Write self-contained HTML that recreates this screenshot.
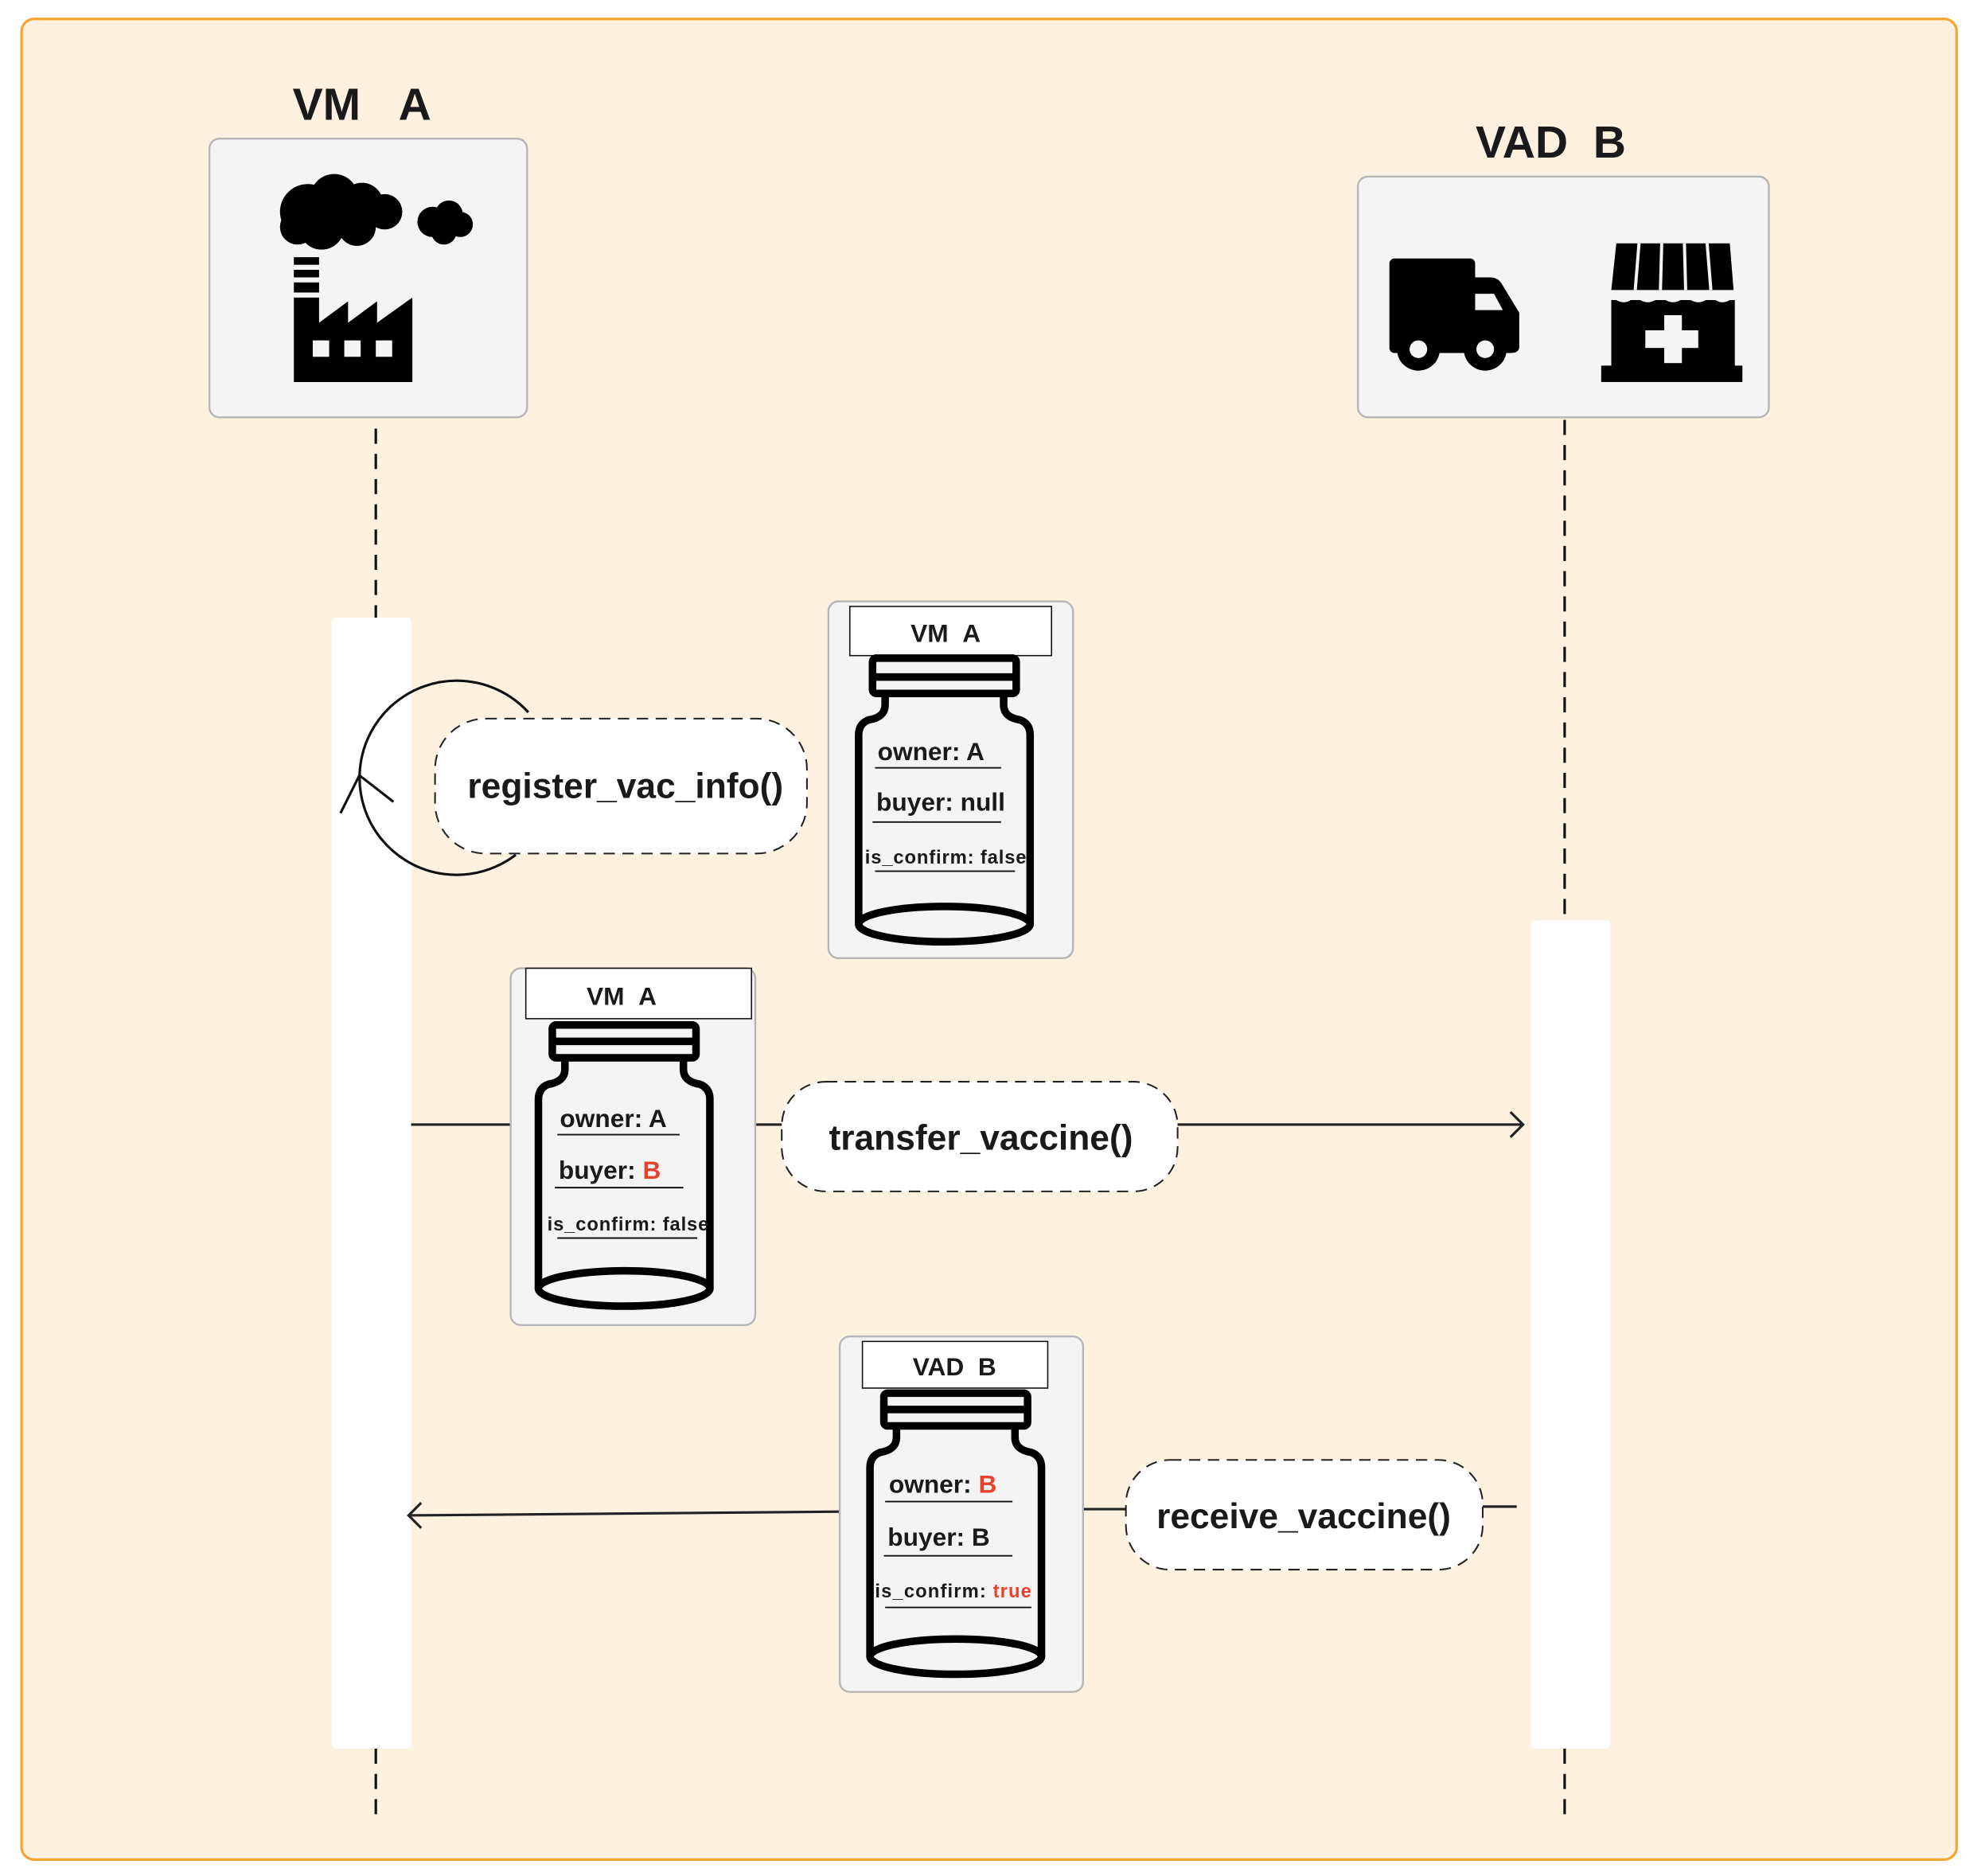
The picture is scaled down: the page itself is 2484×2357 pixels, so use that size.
<!DOCTYPE html>
<html><head><meta charset="utf-8"><style>
html,body{margin:0;padding:0;background:#fff;}
svg{display:block;}
text{font-family:"Liberation Sans",sans-serif;font-weight:bold;fill:#1a1a1a;}
</style></head><body>
<svg width="2484" height="2357" viewBox="0 0 1568 1488" xmlns="http://www.w3.org/2000/svg">
<rect x="17" y="15" width="1535" height="1460" rx="10" fill="#fef1df" stroke="#f7a531" stroke-width="2"/>

<!-- VM A -->
<text x="287" y="95" font-size="36" text-anchor="middle">VM&#160;&#160;&#160;A</text>
<rect x="166" y="110" width="252" height="221" rx="8" fill="#f4f4f4" stroke="#b5b5b5" stroke-width="1.5"/>
<g fill="#000">
 <circle cx="244" cy="168" r="22"/><circle cx="265" cy="157" r="19"/><circle cx="287" cy="162" r="17"/><circle cx="305" cy="168" r="14"/><circle cx="255" cy="180" r="18"/><circle cx="283" cy="180" r="15"/><circle cx="236" cy="180" r="14"/>
 <circle cx="343" cy="176" r="12"/><circle cx="356" cy="170" r="11"/><circle cx="365" cy="178" r="10"/><circle cx="352" cy="184" r="10"/>
 <rect x="233" y="204" width="20" height="6"/><rect x="233" y="214" width="20" height="6"/><rect x="233" y="224" width="20" height="8"/>
 <path d="M233,236 H253 V256 L276,239 V256 L299,239 V256 L327,236 V303 H233 Z"/>
</g>
<g fill="#f4f4f4"><rect x="248" y="270" width="13" height="13"/><rect x="273" y="270" width="13" height="13"/><rect x="298" y="270" width="13" height="13"/></g>

<!-- VAD B -->
<text x="1230" y="125" font-size="36" text-anchor="middle">VAD&#160;&#160;B</text>
<rect x="1077" y="140" width="326" height="191" rx="8" fill="#f4f4f4" stroke="#b5b5b5" stroke-width="1.5"/>
<g fill="#000">
 <rect x="1102" y="205" width="68" height="75" rx="4"/>
 <path d="M1168,220 H1182 Q1188,220 1191,225 L1205,248 V275 Q1205,280 1198,280 H1168 Z"/>
 <circle cx="1125" cy="277" r="17"/><circle cx="1178" cy="277" r="17"/>
</g>
<g fill="#f4f4f4"><circle cx="1125" cy="277" r="7"/><circle cx="1178" cy="277" r="7"/><path d="M1170,233 H1185 L1192,246 H1170 Z"/></g>
<g fill="#000">
 <path d="M1282,193 H1372 L1375,230 H1278 Z"/>
 <rect x="1278" y="238" width="98" height="55"/>
 <rect x="1270" y="290" width="112" height="13"/>
</g>
<g stroke="#f4f4f4" stroke-width="2.5" fill="none">
 <line x1="1300" y1="193" x2="1297" y2="230"/><line x1="1318" y1="193" x2="1317" y2="230"/><line x1="1336" y1="193" x2="1337" y2="230"/><line x1="1354" y1="193" x2="1357" y2="230"/>
 <path d="M1278,233 Q1288,244 1297,233 Q1307,244 1317,233 Q1327,244 1337,233 Q1347,244 1357,233 Q1366,244 1376,233"/>
</g>
<g fill="#f4f4f4"><rect x="1320" y="250" width="14" height="38"/><rect x="1305" y="262" width="42" height="14"/></g>

<!-- lifelines -->
<g stroke="#111" stroke-width="2" stroke-dasharray="12,8" fill="none">
 <line x1="298" y1="340" x2="298" y2="490"/><line x1="298" y1="1387" x2="298" y2="1440"/>
 <line x1="1241" y1="333" x2="1241" y2="730"/><line x1="1241" y1="1387" x2="1241" y2="1445"/>
</g>
<rect x="263" y="490" width="63" height="897" rx="3" fill="#fff"/>
<rect x="1214" y="730" width="63" height="657" rx="3" fill="#fff"/>

<!-- self loop -->
<path d="M424,565 A77,77 0 1 0 414,678" fill="none" stroke="#111" stroke-width="2" transform="translate(-5,0)"/>
<path d="M270,645 L285,615 L312,636" fill="none" stroke="#111" stroke-width="2"/>
<rect x="345" y="570" width="295" height="107" rx="40" fill="#fff" stroke="#222" stroke-width="1.3" stroke-dasharray="9,6"/>
<text x="496" y="633" font-size="28" text-anchor="middle">register_vac_info()</text>

<!-- transfer arrow -->
<line x1="326" y1="892" x2="1208" y2="892" stroke="#222" stroke-width="2"/>
<path d="M1198,882 L1208,892 L1198,902" fill="none" stroke="#222" stroke-width="2"/>
<rect x="620" y="858" width="314" height="87" rx="35" fill="#fff" stroke="#222" stroke-width="1.3" stroke-dasharray="9,6"/>
<text x="778" y="912" font-size="28" text-anchor="middle">transfer_vaccine()</text>

<!-- receive arrow -->
<line x1="1203" y1="1195" x2="1176" y2="1195" stroke="#222" stroke-width="2"/>
<line x1="893" y1="1197" x2="859" y2="1197" stroke="#222" stroke-width="2"/>
<line x1="666" y1="1199" x2="324" y2="1202" stroke="#222" stroke-width="2"/>
<path d="M334,1192 L324,1202 L334,1212" fill="none" stroke="#222" stroke-width="2"/>
<rect x="893" y="1158" width="283" height="87" rx="35" fill="#fff" stroke="#222" stroke-width="1.3" stroke-dasharray="9,6"/>
<text x="1034" y="1212" font-size="28" text-anchor="middle">receive_vaccine()</text>

<!-- jar cards -->
<g transform="translate(657,477)">
 <rect x="0" y="0" width="194" height="283" rx="8" fill="#f4f4f4" stroke="#b5b5b5" stroke-width="1.5"/>
 <rect x="17" y="4" width="160" height="39" fill="#fff" stroke="#111" stroke-width="1"/>
 <text x="93" y="32" font-size="20" text-anchor="middle">VM&#160;&#160;A</text>
 <g fill="none" stroke="#000" stroke-width="6">
  <rect x="35" y="45" width="114" height="28" rx="3"/><line x1="35" y1="60" x2="149" y2="60"/>
  <path d="M45,73 V82 Q45,92 32,94 Q24,97 24,106 V256 M160,256 V106 Q160,97 152,94 Q139,92 139,82 V73"/>
  <ellipse cx="92" cy="256" rx="68" ry="14"/>
 </g>
 <text x="39" y="126" font-size="20">owner: A</text>
 <line x1="37" y1="132" x2="137" y2="132" stroke="#111" stroke-width="1.2"/>
 <text x="38" y="166" font-size="20">buyer: null</text>
 <line x1="35" y1="175" x2="137" y2="175" stroke="#111" stroke-width="1.2"/>
 <text x="29" y="208" font-size="15" textLength="128">is_confirm: false</text>
 <line x1="37" y1="214" x2="148" y2="214" stroke="#111" stroke-width="1.2"/>
</g>

<g transform="translate(405,768)">
 <rect x="0" y="0" width="194" height="283" rx="8" fill="#f4f4f4" stroke="#b5b5b5" stroke-width="1.5"/>
 <rect x="12" y="0" width="179" height="40" fill="#fff" stroke="#111" stroke-width="1"/>
 <text x="88" y="29" font-size="20" text-anchor="middle">VM&#160;&#160;A</text>
 <g fill="none" stroke="#000" stroke-width="6" transform="translate(-2,-2)">
  <rect x="35" y="47" width="114" height="26" rx="3"/><line x1="35" y1="60" x2="149" y2="60"/>
  <path d="M45,73 V82 Q45,92 32,94 Q24,97 24,106 V256 M160,256 V106 Q160,97 152,94 Q139,92 139,82 V73"/>
  <ellipse cx="92" cy="256" rx="68" ry="14"/>
 </g>
 <text x="39" y="126" font-size="20">owner: A</text>
 <line x1="37" y1="132" x2="134" y2="132" stroke="#111" stroke-width="1.2"/>
 <text x="38" y="167" font-size="20">buyer: <tspan style="fill:#e8412c">B</tspan></text>
 <line x1="35" y1="174" x2="137" y2="174" stroke="#111" stroke-width="1.2"/>
 <text x="29" y="208" font-size="15" textLength="128">is_confirm: false</text>
 <line x1="37" y1="214" x2="148" y2="214" stroke="#111" stroke-width="1.2"/>
</g>

<g transform="translate(666,1060)">
 <rect x="0" y="0" width="193" height="282" rx="8" fill="#f4f4f4" stroke="#b5b5b5" stroke-width="1.5"/>
 <rect x="18" y="4" width="147" height="37" fill="#fff" stroke="#111" stroke-width="1"/>
 <text x="91" y="31" font-size="20" text-anchor="middle">VAD&#160;&#160;B</text>
 <g fill="none" stroke="#000" stroke-width="6" transform="translate(0,-2)">
  <rect x="35" y="47" width="114" height="26" rx="3"/><line x1="35" y1="60" x2="149" y2="60"/>
  <path d="M45,73 V82 Q45,92 32,94 Q24,97 24,106 V256 M160,256 V106 Q160,97 152,94 Q139,92 139,82 V73"/>
  <ellipse cx="92" cy="256" rx="68" ry="14"/>
 </g>
 <text x="39" y="124" font-size="20">owner: <tspan style="fill:#e8412c">B</tspan></text>
 <line x1="36" y1="131" x2="137" y2="131" stroke="#111" stroke-width="1.2"/>
 <text x="38" y="166" font-size="20">buyer: B</text>
 <line x1="35" y1="174" x2="137" y2="174" stroke="#111" stroke-width="1.2"/>
 <text x="28" y="207" font-size="15" textLength="124">is_confirm: <tspan style="fill:#e8412c">true</tspan></text>
 <line x1="36" y1="215" x2="152" y2="215" stroke="#111" stroke-width="1.2"/>
</g>
</svg>
</body></html>
